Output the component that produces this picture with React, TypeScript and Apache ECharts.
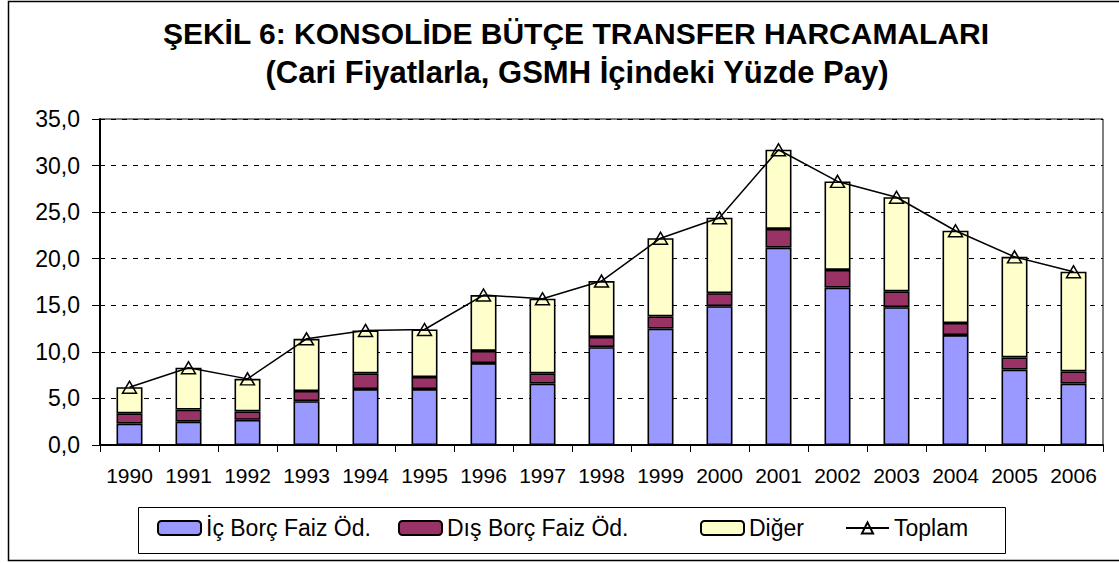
import React, { useEffect, useRef } from "react";
import * as echarts from "echarts";

const years = ["1990","1991","1992","1993","1994","1995","1996","1997","1998","1999","2000","2001","2002","2003","2004","2005","2006"];
const icBorc = [2.3, 2.5, 2.7, 4.7, 6.0, 6.0, 8.8, 6.6, 10.5, 12.5, 14.9, 21.2, 16.9, 14.8, 11.8, 8.1, 6.6];
const disBorc = [1.1, 1.3, 0.9, 1.1, 1.7, 1.3, 1.3, 1.1, 1.1, 1.3, 1.4, 2.0, 1.9, 1.7, 1.3, 1.3, 1.3];
const diger = [2.8, 4.5, 3.5, 5.6, 4.6, 5.1, 6.0, 8.0, 6.0, 8.4, 8.1, 8.5, 9.5, 10.1, 9.9, 10.8, 10.7];
const toplam = [6.2, 8.3, 7.1, 11.4, 12.3, 12.4, 16.1, 15.7, 17.6, 22.2, 24.4, 31.7, 28.3, 26.6, 23.0, 20.2, 18.6];

const titleLine1 = "ŞEKİL 6: KONSOLİDE BÜTÇE TRANSFER HARCAMALARI";
const titleLine2 = "(Cari Fiyatlarla, GSMH İçindeki Yüzde Pay)";
const seriesNames = ["İç Borç Faiz Öd.", "Dış Borç Faiz Öd.", "Diğer", "Toplam"];
const legendLefts = [157, 398, 700, 845];

const FONT = '"Liberation Sans", Arial, sans-serif';

export default function App() {
  const ref = useRef<HTMLDivElement>(null);
  useEffect(() => {
    if (!ref.current) return;
    const chart = echarts.init(ref.current, null, { renderer: "svg" });
    const barStyle = (color: string) => ({ color, borderColor: "#000", borderWidth: 1.6 });
    chart.setOption({
      animation: false,
      backgroundColor: "#fff",
      textStyle: { fontFamily: FONT, color: "#000" },
      graphic: [
        {
          type: "rect",
          shape: { x: 8.5, y: 1.5, width: 1120, height: 559 },
          style: { fill: "none", stroke: "#000", lineWidth: 1.5 },
          silent: true,
        },
        {
          type: "rect",
          shape: { x: 138.5, y: 507.5, width: 867, height: 46 },
          style: { fill: "none", stroke: "#000", lineWidth: 1 },
          silent: true,
        },
        {
          type: "text",
          x: 576,
          y: 33,
          style: { text: titleLine1, fontSize: 30, fontWeight: "bold", fontFamily: FONT, fill: "#000", align: "center", verticalAlign: "middle" },
        },
        {
          type: "text",
          x: 577,
          y: 72,
          style: { text: titleLine2, fontSize: 31, fontWeight: "bold", fontFamily: FONT, fill: "#000", align: "center", verticalAlign: "middle" },
        },
      ],
      grid: {
        left: 100,
        right: 16,
        top: 119,
        bottom: 118,
        show: true,
        borderColor: "#000",
        borderWidth: 1,
      },
      legend: seriesNames.map((name, i) => ({
        data: [name],
        left: legendLefts[i],
        top: 516,
        padding: 0,
        itemGap: 0,
        itemWidth: 43,
        itemHeight: 14,
        textStyle: { fontSize: 23, fontFamily: FONT, color: "#000", lineHeight: 24, padding: [0, 0, 0, 0] },
      })),
      xAxis: {
        type: "category",
        data: years,
        axisLine: { lineStyle: { color: "#000", width: 2 } },
        axisTick: { show: true, alignWithLabel: false, length: 7, lineStyle: { color: "#000", width: 1 } },
        axisLabel: { fontSize: 21, color: "#000", margin: 20, fontFamily: FONT, interval: 0, hideOverlap: false },
      },
      yAxis: {
        type: "value",
        min: 0,
        max: 35,
        interval: 5,
        axisLine: { show: true, lineStyle: { color: "#000", width: 2 } },
        axisTick: { show: true, length: 8, lineStyle: { color: "#000", width: 1 } },
        axisLabel: {
          fontSize: 23,
          color: "#000",
          margin: 20,
          fontFamily: FONT,
          formatter: (v: number) => v.toFixed(1).replace(".", ","),
        },
        splitLine: { show: true, lineStyle: { color: "#000", type: [5, 6], width: 1 } },
      },
      series: [
        { name: seriesNames[0], type: "bar", stack: "t", barWidth: 26, data: icBorc, itemStyle: barStyle("#9999FF") },
        { name: seriesNames[1], type: "bar", stack: "t", barWidth: 26, data: disBorc, itemStyle: barStyle("#993366") },
        { name: seriesNames[2], type: "bar", stack: "t", barWidth: 26, data: diger, itemStyle: barStyle("#FFFFCC") },
        {
          name: seriesNames[3],
          type: "line",
          data: toplam,
          symbol: "triangle",
          symbolSize: [14, 12],
          showAllSymbol: true,
          lineStyle: { color: "#000", width: 1.5 },
          itemStyle: { color: "rgba(255,255,255,0)", borderColor: "#000", borderWidth: 1.5 },
          z: 5,
        },
      ],
    });
    return () => chart.dispose();
  }, []);
  return <div ref={ref} style={{ position: "absolute", left: 0, top: 0, width: 1119, height: 563 }} />;
}
